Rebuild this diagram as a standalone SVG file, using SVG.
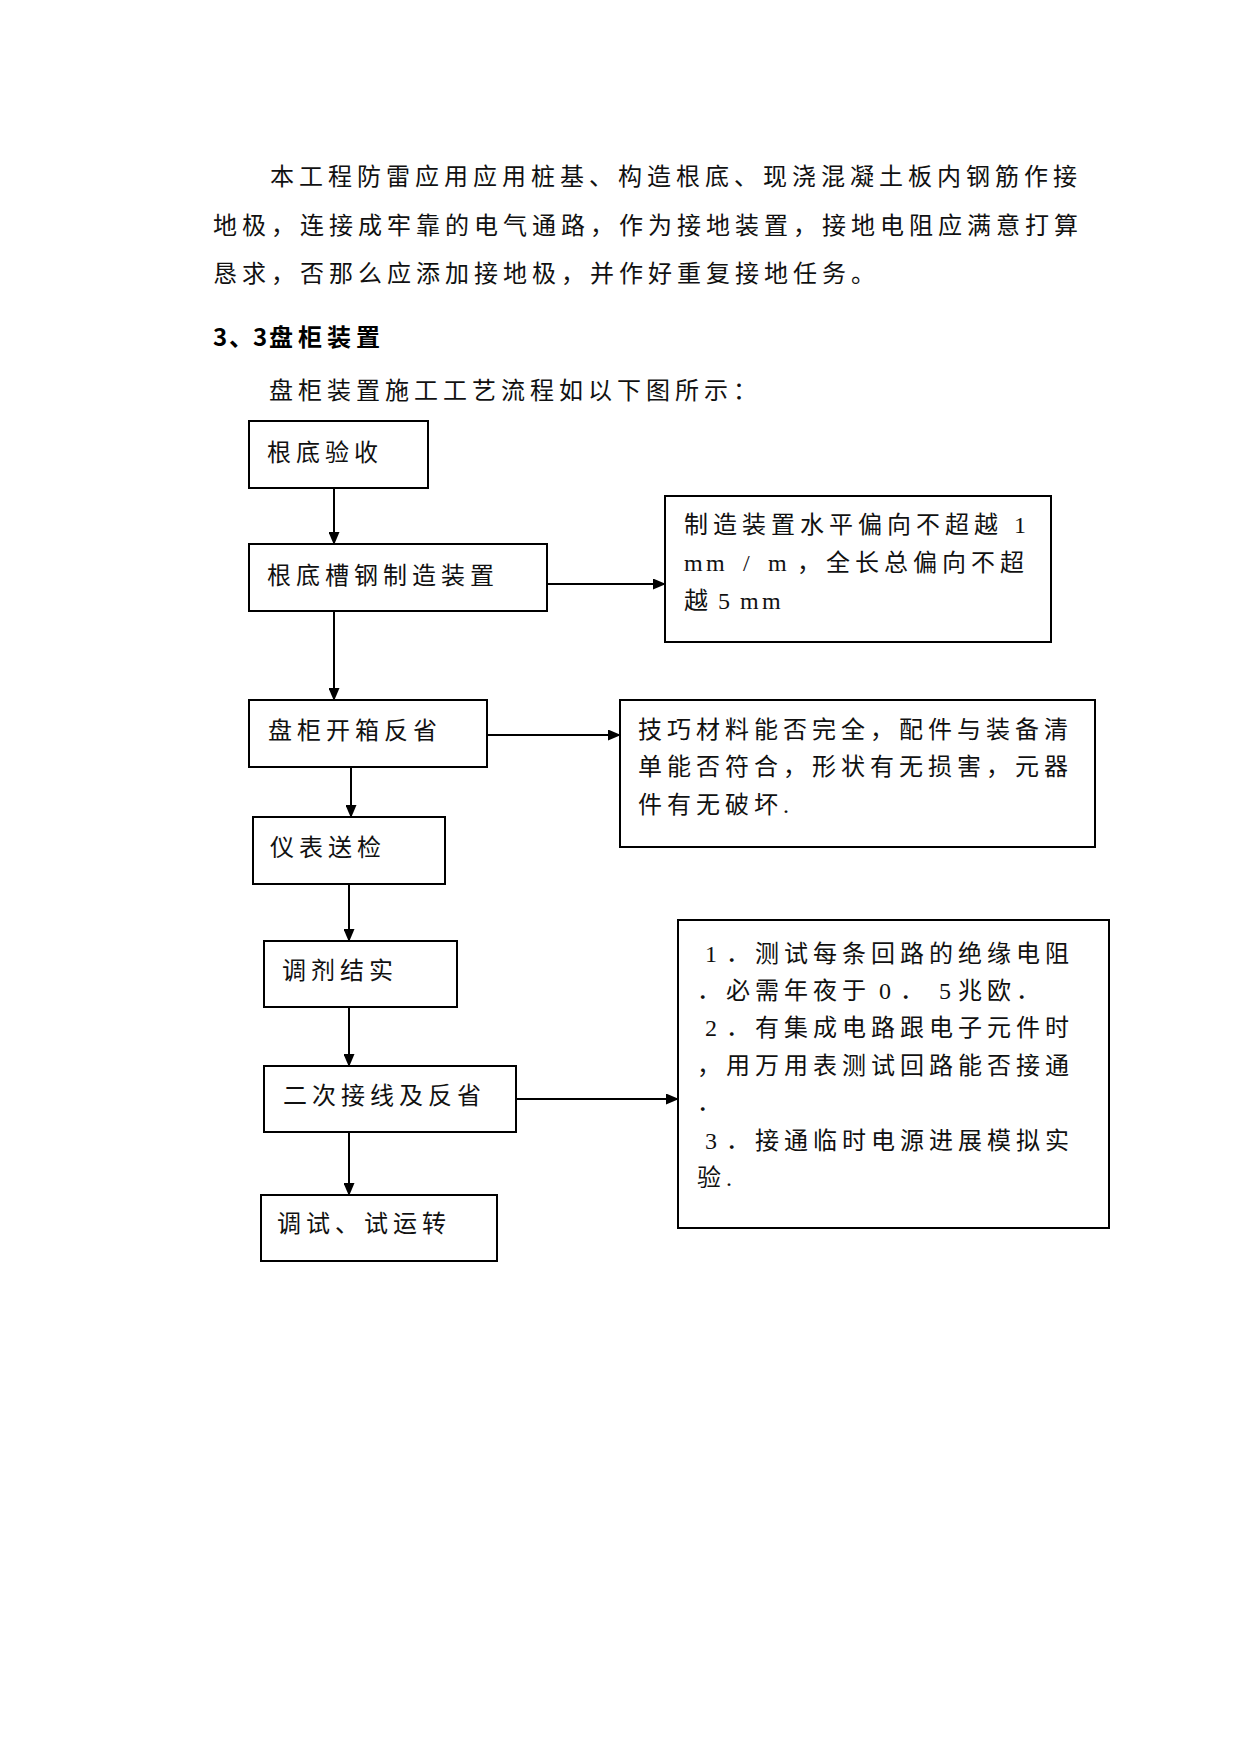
<svg xmlns="http://www.w3.org/2000/svg" width="1241" height="1755" viewBox="0 0 1241 1755">
<style>
.t{font-family:"Liberation Serif","Noto Sans CJK SC",serif;font-size:24px;letter-spacing:5px;fill:#111}
.h{font-family:"Noto Sans CJK SC",sans-serif;font-weight:bold;font-size:24px;fill:#000}
.box{fill:none;stroke:#000;stroke-width:2}
.c{fill:none;stroke:#000;stroke-width:2}
</style>
<defs>
<marker id="ah" markerUnits="userSpaceOnUse" markerWidth="13" markerHeight="11" refX="12" refY="5.5" orient="auto">
<path d="M0,0 L13,5.5 L0,11 z" fill="#000"/>
</marker>
</defs>
<rect width="1241" height="1755" fill="#fff"/>

<g id="text-body">
<text class="t" x="270" y="185">本工程防雷应用应用桩基、构造根底、现浇混凝土板内钢筋作接</text>
<text class="t" x="213" y="234">地极，连接成牢靠的电气通路，作为接地装置，接地电阻应满意打算</text>
<text class="t" x="213" y="282">恳求，否那么应添加接地极，并作好重复接地任务。</text>
<text class="h" x="213" y="346"><tspan x="213">3</tspan><tspan x="229">、</tspan><tspan x="253">3</tspan><tspan x="269" style="letter-spacing:5px">盘柜装置</tspan></text>
<text class="t" x="269" y="399">盘柜装置施工工艺流程如以下图所示：</text>
</g>

<g id="connectors">
<line class="c" x1="334" y1="488" x2="334" y2="544" marker-end="url(#ah)"/>
<line class="c" x1="547" y1="584" x2="665" y2="584" marker-end="url(#ah)"/>
<line class="c" x1="334" y1="611" x2="334" y2="700" marker-end="url(#ah)"/>
<line class="c" x1="487" y1="735" x2="620" y2="735" marker-end="url(#ah)"/>
<line class="c" x1="351" y1="767" x2="351" y2="817" marker-end="url(#ah)"/>
<line class="c" x1="349" y1="884" x2="349" y2="941" marker-end="url(#ah)"/>
<line class="c" x1="349" y1="1007" x2="349" y2="1066" marker-end="url(#ah)"/>
<line class="c" x1="516" y1="1099" x2="678" y2="1099" marker-end="url(#ah)"/>
<line class="c" x1="349" y1="1132" x2="349" y2="1195" marker-end="url(#ah)"/>
</g>

<g id="n1">
<rect class="box" x="249" y="421" width="179" height="67"/>
<text class="t" x="267" y="461">根底验收</text>
</g>
<g id="n2">
<rect class="box" x="249" y="544" width="298" height="67"/>
<text class="t" x="267" y="584">根底槽钢制造装置</text>
</g>
<g id="r1">
<rect class="box" x="665" y="496" width="386" height="146"/>
<text class="t" x="684" y="533">制造装置水平偏向不超越 1</text>
<text class="t" y="571"><tspan x="684">m</tspan><tspan x="706">m</tspan><tspan x="743">/</tspan><tspan x="768">m</tspan><tspan x="797">，全长总偏向不超</tspan></text>
<text class="t" y="609"><tspan x="684">越</tspan><tspan x="718">5</tspan><tspan x="740">m</tspan><tspan x="762">m</tspan></text>
</g>
<g id="n3">
<rect class="box" x="249" y="700" width="238" height="67"/>
<text class="t" x="268" y="739">盘柜开箱反省</text>
</g>
<g id="r2">
<rect class="box" x="620" y="700" width="475" height="147"/>
<text class="t" x="638" y="738">技巧材料能否完全，配件与装备清</text>
<text class="t" x="638" y="775">单能否符合，形状有无损害，元器</text>
<text class="t" x="638" y="813">件有无破坏.</text>
</g>
<g id="n4">
<rect class="box" x="253" y="817" width="192" height="67"/>
<text class="t" x="270" y="856">仪表送检</text>
</g>
<g id="n5">
<rect class="box" x="264" y="941" width="193" height="66"/>
<text class="t" x="282" y="979">调剂结实</text>
</g>
<g id="n6">
<rect class="box" x="264" y="1066" width="252" height="66"/>
<text class="t" x="283" y="1104">二次接线及反省</text>
</g>
<g id="r3">
<rect class="box" x="678" y="920" width="431" height="308"/>
<text class="t" y="962"><tspan x="705">1</tspan><tspan x="726">．测试每条回路的绝缘电阻</tspan></text>
<text class="t" y="999"><tspan x="697">．必需年夜于</tspan><tspan x="879">0</tspan><tspan x="900">．</tspan><tspan x="939">5</tspan><tspan x="958">兆欧．</tspan></text>
<text class="t" y="1036"><tspan x="705">2</tspan><tspan x="726">．有集成电路跟电子元件时</tspan></text>
<text class="t" x="697" y="1074">，用万用表测试回路能否接通</text>
<text class="t" x="697" y="1111">．</text>
<text class="t" y="1149"><tspan x="705">3</tspan><tspan x="726">．接通临时电源进展模拟实</tspan></text>
<text class="t" x="697" y="1186">验.</text>
</g>
<g id="n7">
<rect class="box" x="261" y="1195" width="236" height="66"/>
<text class="t" x="277" y="1232">调试、试运转</text>
</g>
</svg>
